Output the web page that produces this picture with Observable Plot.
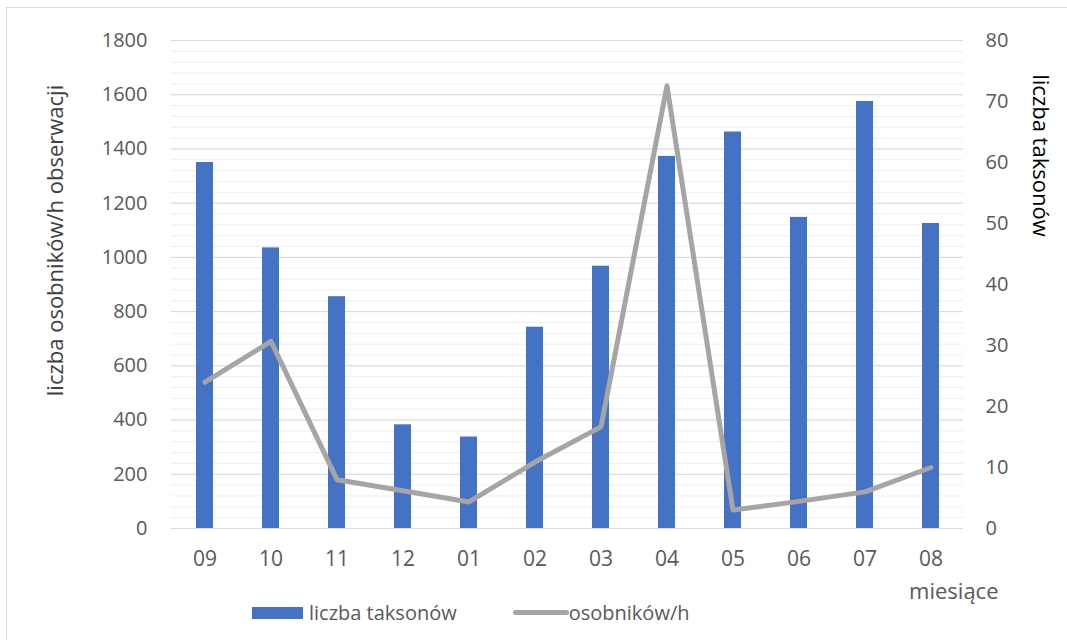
<!DOCTYPE html>
<html>
<head>
<meta charset="utf-8">
<script src="https://cdn.jsdelivr.net/npm/d3@7"></script>
<script src="https://cdn.jsdelivr.net/npm/@observablehq/plot@0.6"></script>
<style>
  html, body { margin: 0; padding: 0; background: #fff; }
  body { width: 1067px; height: 640px; overflow: hidden; position: relative; font-family: "Open Sans", sans-serif; }
  #frame { position: absolute; left: 6px; top: 7px; width: 1100px; height: 700px; border-left: 1px solid #d9d9d9; border-top: 1px solid #d9d9d9; }
  #chart { position: absolute; left: 0; top: 0; }
  #legend { position: absolute; left: 252px; top: 599px; display: flex; align-items: center; font-size: 20px; color: #595959; }
  .sw-bar { width: 51px; height: 12px; background: #4472C4; margin-right: 6px; }
  .sw-line { width: 56px; height: 5px; border-radius: 3px; background: #A5A5A5; margin-left: 56px; }
</style>
</head>
<body>
<div id="frame"></div>
<div id="chart"></div>
<div id="legend">
  <div class="sw-bar"></div><span id="lg1"></span>
  <div class="sw-line"></div><span id="lg2"></span>
</div>
<script>
const months = ["09","10","11","12","01","02","03","04","05","06","07","08"];
const taxa = [60, 46, 38, 17, 15, 33, 43, 61, 65, 51, 70, 50];
const perHour = [540, 690, 180, 139, 98, 245, 375, 1633, 68, 100, 135, 225];
const leftTicks = [0, 200, 400, 600, 800, 1000, 1200, 1400, 1600, 1800];
const rightTicks = [0, 10, 20, 30, 40, 50, 60, 70, 80];
const minorGrid = d3.range(0, 1801, 40);
const leftTitle = "liczba osobników/h obserwacji";
const rightTitle = "liczba taksonów";
const xTitle = "miesiące";
const seriesNames = ["liczba taksonów", "osobników/h"];

const k = 1800 / 80;
const data = months.map((m, i) => ({month: m, taxa: taxa[i], ind: perHour[i]}));

document.getElementById("lg1").textContent = seriesNames[0];
document.getElementById("lg2").textContent = seriesNames[1];

const chart = Plot.plot({
  width: 1067,
  height: 615,
  marginTop: 40,
  marginBottom: 87,
  marginLeft: 171,
  marginRight: 104,
  style: {fontFamily: "Open Sans, sans-serif", fontSize: "20px", color: "#595959", background: "transparent"},
  x: {domain: months, paddingInner: 0.75, paddingOuter: 0.375},
  y: {domain: [0, 1800]},
  marks: [
    Plot.ruleY(minorGrid, {stroke: "#efefef", strokeWidth: 1}),
    Plot.ruleY(leftTicks, {stroke: "#d9d9d9", strokeWidth: 1}),
    Plot.barY(data, {x: "month", y: d => d.taxa * k, fill: "#4472C4"}),
    Plot.lineY(data, {x: "month", y: "ind", stroke: "#A5A5A5", strokeWidth: 5, strokeLinecap: "round", strokeLinejoin: "round"}),
    Plot.axisX({tickSize: 0, tickPadding: 23, fontSize: 21, label: null, fill: "#595959"}),
    Plot.axisY(leftTicks, {anchor: "left", tickSize: 0, tickPadding: 24, tickFormat: d => String(d), label: null, fontSize: 20, fill: "#595959"}),
    Plot.axisY(rightTicks.map(v => v * k), {anchor: "right", tickSize: 0, tickPadding: 22, tickFormat: d => String(Math.round(d / k)), label: null, fontSize: 20, fill: "#595959"}),
    Plot.text([leftTitle], {frameAnchor: "left", textAnchor: "middle", lineAnchor: "middle", rotate: -90, dx: -116, dy: -44, fontSize: 22, fill: "#404040"}),
    Plot.text([rightTitle], {frameAnchor: "right", textAnchor: "middle", lineAnchor: "middle", rotate: 90, dx: 77, dy: -129, fontSize: 22, fill: "#000000"}),
    Plot.text([xTitle], {frameAnchor: "bottom-right", textAnchor: "end", lineAnchor: "middle", dx: 35, dy: 63, fontSize: 22, fill: "#595959"})
  ]
});
document.getElementById("chart").appendChild(chart);
</script>
</body>
</html>
